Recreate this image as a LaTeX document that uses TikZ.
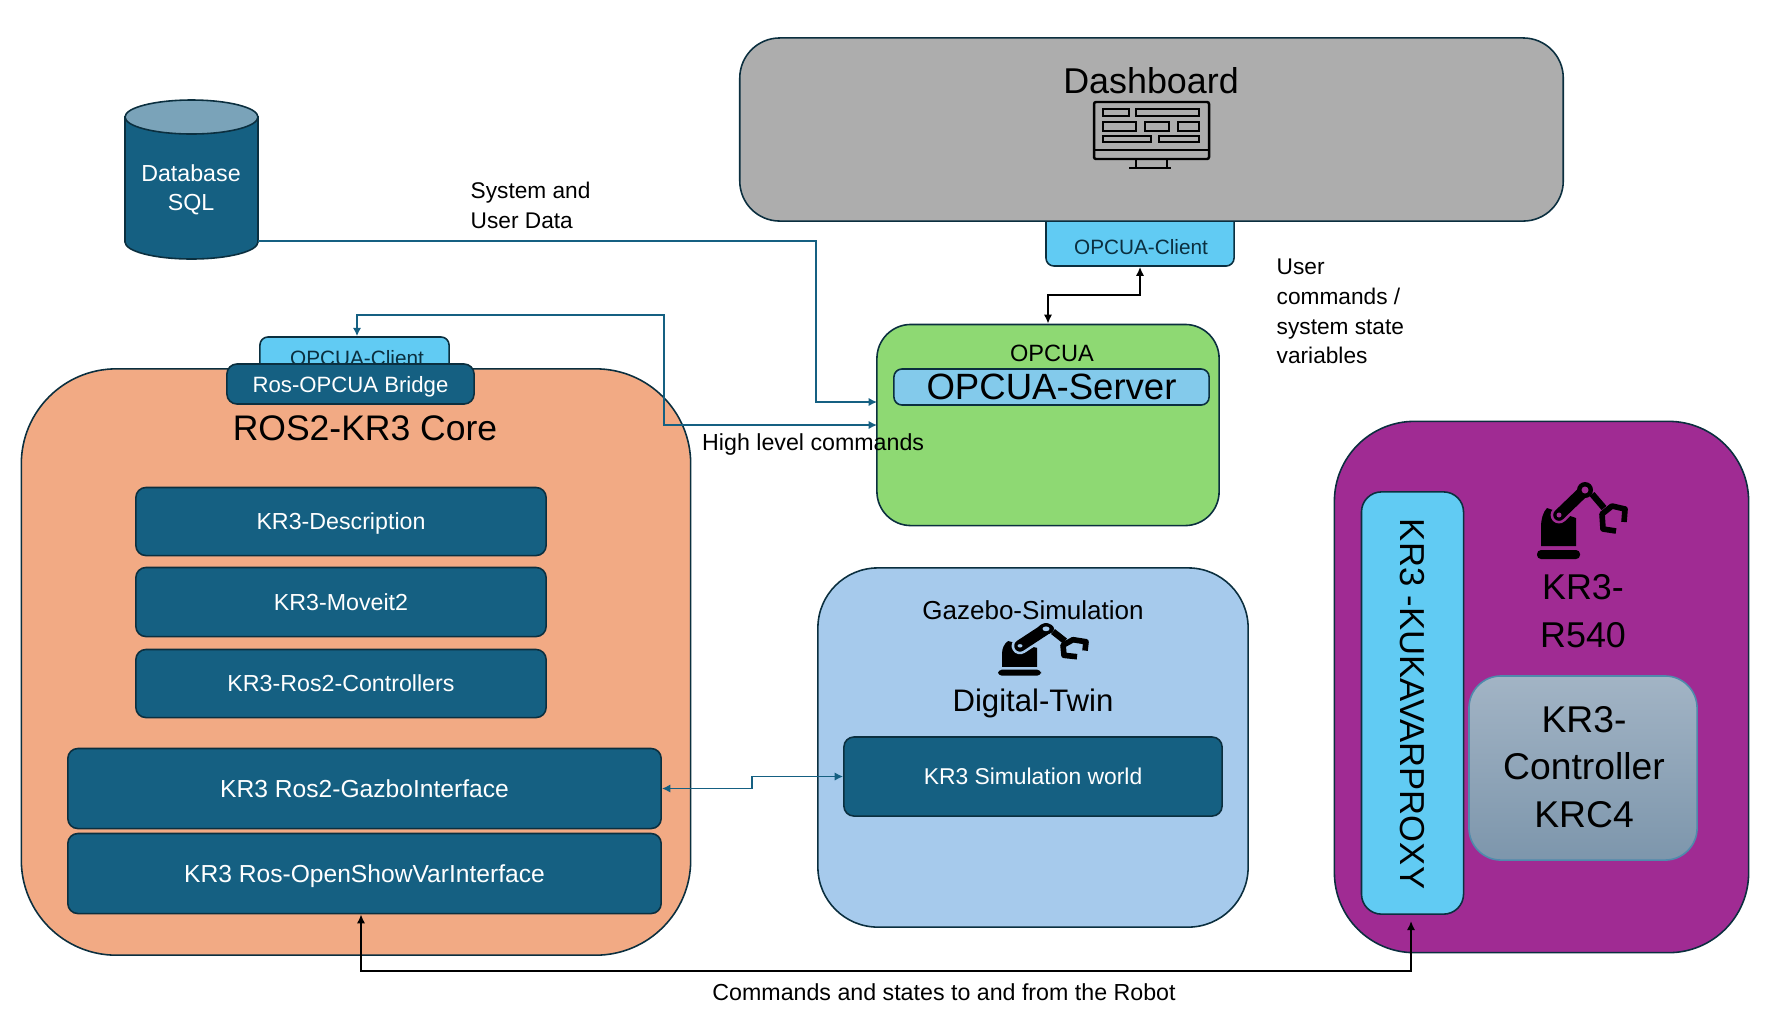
\documentclass[tikz,border=0pt]{standalone}
\usepackage{fontspec}
\setmainfont{Liberation Sans}
\usepackage{tikz}
\usetikzlibrary{positioning}
\usetikzlibrary{calc}
\usetikzlibrary{arrows.meta}

\definecolor{coreorange}{HTML}{F2AA84}
\definecolor{opcgreen}{HTML}{8ED973}
\definecolor{robotpurple}{HTML}{A02B93}
\definecolor{simblue}{HTML}{A6CAEC}
\definecolor{dashgrey}{HTML}{ADADAD}
\definecolor{moddark}{HTML}{156082}
\definecolor{edgedark}{HTML}{0B2F3F}
\definecolor{clientblue}{HTML}{61CBF3}
\definecolor{serverblue}{HTML}{83CAEB}
\definecolor{dbtop}{HTML}{7AA3B9}
\definecolor{krctop}{HTML}{A2B4C5}
\definecolor{krcbottom}{HTML}{7D96AC}

\tikzset{
    panel/.style={draw=edgedark, line width=.45pt, inner sep=0pt, rounded corners=#1},
    panel/.default=3mm,
    modbox/.style={panel=1mm, fill=moddark, text=white, text depth=0pt},
    lbl/.style={inner sep=0pt, align=center},
    flow/.style={draw=moddark, line width=.55pt, {Latex[length=2.4pt,width=2.4pt]}-{Latex[length=2.4pt,width=2.4pt]}},
    flowone/.style={draw=moddark, line width=.55pt, -{Latex[length=2.4pt,width=2.4pt]}},
    sig/.style={draw=black, line width=.6pt, {Latex[length=2.6pt,width=2.4pt]}-{Latex[length=2.6pt,width=2.4pt]}},
}

\newcommand{\fsz}[1]{\fontsize{#1}{#1}\selectfont}

% robot icon, #1 foot of the base, #2 height factor, #3 backdrop
\newcommand{\robotarm}[3]{
\begin{scope}[shift={(#1)}, yscale=#2]
    \fill[black, rounded corners=.4mm] (-22, -5) rectangle (21, 4);
    \fill[black] (-18, -9) -- (17, -9) -- (17, -37) -- (-12, -47) .. controls (-16, -43) and (-18, -36) .. (-18, -28) -- cycle;
    \draw[#3, line width=4.8pt, line cap=round] (0, -40) -- (26, -65);
    \draw[black, line width=3.3pt, line cap=round] (0, -40) -- (26, -65);
    \fill[black] (26, -65) circle[radius=8];
    \fill[#3] (26, -65) circle[radius=3.5];
    \fill[#3] (0, -40) circle[radius=2.5];
    \draw[black, line width=1.8pt] (33, -61) -- (45, -47);
    \draw[black, line width=1.6pt, line join=round] (65, -33) -- (66, -46) -- (53, -49) -- (43, -41) -- (44, -26) -- (57, -24);
\end{scope}
}

\begin{document}
\begin{tikzpicture}[x=.01cm, y=-.01cm]
    \useasboundingbox (0, 0) rectangle (1792, 1008);

    % dashboard
    \node[panel=.8mm, fill=clientblue, minimum width=1.88cm, minimum height=.76cm] (dashclient) at (1140, 228) {};
    \node[panel=4mm, fill=dashgrey, minimum width=8.23cm, minimum height=1.83cm] (dash) at (1151.5, 129.5) {};
    \node[lbl, font=\fsz{10.2}] (dashtitle) at (1151, 81) {Dashboard};
    \node[lbl, font=\fsz{5.9}, text=edgedark] (dashclienttext) at (1141, 247) {OPCUA-Client};

    % screen icon
    \draw[line width=.7pt, rounded corners=.2mm] (1094, 102) rectangle (1209, 159);
    \draw[line width=.7pt] (1094, 150) -- (1209, 150);
    \draw[line width=.7pt] (1136, 159) -- (1136, 168);
    \draw[line width=.7pt] (1167, 159) -- (1167, 168);
    \draw[line width=.7pt] (1129, 168) -- (1171, 168);
    \draw[line width=.7pt] (1103, 109) rectangle (1129, 116);
    \draw[line width=.7pt] (1136, 109) rectangle (1199, 116);
    \draw[line width=.7pt] (1103, 122) rectangle (1136, 131);
    \draw[line width=.7pt] (1145, 122) rectangle (1169, 131);
    \draw[line width=.7pt] (1178, 122) rectangle (1199, 131);
    \draw[line width=.7pt] (1103, 136) rectangle (1151, 142);
    \draw[line width=.7pt] (1159, 136) rectangle (1199, 142);

    % database
    \draw[edgedark, line width=.45pt, fill=moddark] (125, 117) -- (125, 242) arc[start angle=180, end angle=0, x radius=66.5, y radius=17] -- (258, 117) -- cycle;
    \draw[edgedark, line width=.45pt, fill=dbtop] (191.5, 117) ellipse[x radius=66.5, y radius=17];
    \node[lbl, font=\fsz{6.6}, text=white] (dbtext) at (191, 189.5) {Database\\[.6mm]SQL};
    \coordinate (dbout) at (258, 241);
    \node[lbl, font=\fsz{6.45}, align=left, anchor=west] (dbnote) at (470, 205.5) {System and\\[.7mm]User Data};

    % opcua server
    \node[panel=3.4mm, fill=opcgreen, minimum width=3.42cm, minimum height=2.01cm] (opcua) at (1048, 425) {};
    \node[lbl, font=\fsz{6.7}] (opcuatitle) at (1052, 353) {OPCUA};
    \node[panel=.8mm, fill=serverblue, minimum width=3.15cm, minimum height=.36cm, font=\fsz{10.4}] (opcserver) at (1051.5, 387) {OPCUA-Server};
    \node[lbl, font=\fsz{6.45}, align=left, anchor=west] (usernote) at (1276, 311.5) {User\\[.7mm]commands /\\[.7mm]system state\\[.7mm]variables};
    \coordinate (opcinA) at (877, 402);
    \coordinate (opcinB) at (877, 425);

    % ros2 core
    \node[panel=.8mm, fill=clientblue, minimum width=1.89cm, minimum height=.43cm] (rosclient) at (354.5, 358.5) {};
    \node[lbl, font=\fsz{5.9}, text=edgedark] (rosclienttext) at (357, 358.5) {OPCUA-Client};
    \node[panel=9.5mm, fill=coreorange, minimum width=6.69cm, minimum height=5.86cm] (core) at (356, 662) {};
    \node[modbox, minimum width=2.47cm, minimum height=.4cm, font=\fsz{6.3}] (bridge) at (350.5, 384) {Ros-OPCUA Bridge};
    \node[lbl, font=\fsz{10.1}] (coretitle) at (365, 428) {ROS2-KR3 Core};
    \node[modbox, minimum width=4.1cm, minimum height=.68cm, font=\fsz{6.6}] (descr) at (341, 521.5) {KR3-Description};
    \node[modbox, minimum width=4.1cm, minimum height=.69cm, font=\fsz{6.6}] (moveit) at (341, 602) {KR3-Moveit2};
    \node[modbox, minimum width=4.1cm, minimum height=.68cm, font=\fsz{6.6}] (ctrl) at (341, 683.5) {KR3-Ros2-Controllers};
    \node[modbox, minimum width=5.93cm, minimum height=.8cm, font=\fsz{7}] (gazif) at (364.5, 788.5) {KR3 Ros2-GazboInterface};
    \node[modbox, minimum width=5.93cm, minimum height=.8cm, font=\fsz{7}] (kvpif) at (364.5, 873.5) {KR3 Ros-OpenShowVarInterface};

    % simulation
    \node[panel=6mm, fill=simblue, minimum width=4.3cm, minimum height=3.59cm] (sim) at (1033, 747.5) {};
    \node[lbl, font=\fsz{7.4}] (simtitle) at (1033, 610) {Gazebo-Simulation};
    \robotarm{1020, 673}{.68}{simblue}
    \node[lbl, font=\fsz{8.85}] (twintitle) at (1033, 703) {Digital-Twin};
    \node[modbox, minimum width=3.78cm, minimum height=.79cm, font=\fsz{6.5}] (simworld) at (1033, 776.5) {KR3 Simulation world};

    % robot
    \node[panel=8mm, fill=robotpurple, minimum width=4.14cm, minimum height=5.31cm] (robot) at (1541.5, 687) {};
    \node[panel=2mm, fill=clientblue, minimum width=1.02cm, minimum height=4.22cm] (proxy) at (1412.5, 703) {};
    \node[lbl, font=\fsz{9.85}, rotate=-90] (proxytext) at (1412, 704) {KR3 -KUKAVARPROXY};
    \robotarm{1559, 555}{1}{robotpurple}
    \node[lbl, font=\fsz{10.2}] (robottext) at (1583, 611) {KR3-\\[1.2mm]R540};
    \node[draw=moddark!60!simblue, line width=.45pt, rounded corners=3.2mm, top color=krctop, bottom color=krcbottom, minimum width=2.28cm, minimum height=1.84cm] (krc) at (1583, 768) {};
    \node[lbl, font=\fsz{10.6}] (krctext) at (1584, 767) {KR3-\\[1mm]Controller\\[1mm]KRC4};
    \coordinate (proxyin) at (1411, 921);

    % connectors
    \coordinate (dashmid) at (1048, 295);
    \draw[sig] (opcua.north) -- (dashmid) -| (dashclient.south);
    \draw[flowone] (dbout) -| ($(opcinA) + (-61, 0)$) -- (opcinA);
    \draw[flow] ($(rosclient.north) + (2.5, 0)$) |- ($(opcinB) + (-213, -110)$) -- ($(opcinB) + (-213, 0)$) -- (opcinB);
    \draw[flow] (gazif.east) -- ++(90, 0) |- (simworld.west);
    \coordinate (robotfoot) at (361, 971);
    \draw[sig] (kvpif.south -| robotfoot) -- (robotfoot) -| (proxyin);

    \node[lbl, font=\fsz{6.6}, anchor=west] (cmdnote) at (701.5, 444) {High level commands};
    \node[lbl, font=\fsz{6.6}] (robotnote) at (944, 992.5) {Commands and states to and from the Robot};
\end{tikzpicture}
\end{document}
